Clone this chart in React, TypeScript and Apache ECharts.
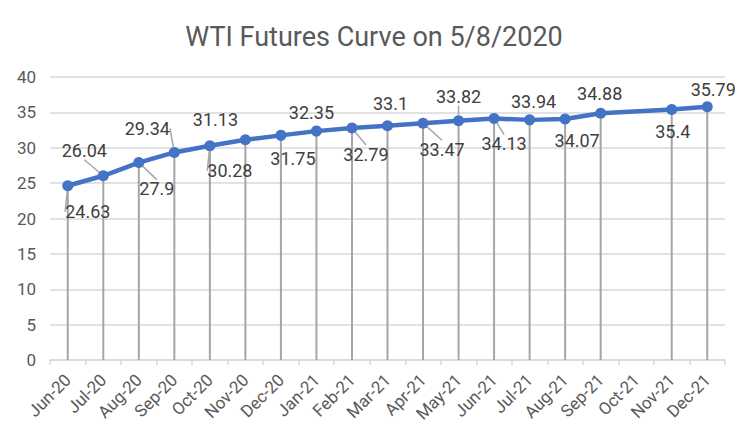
import React, { useEffect, useRef } from "react";
import * as echarts from "echarts";

const categories = [
  "Jun-20", "Jul-20", "Aug-20", "Sep-20", "Oct-20", "Nov-20", "Dec-20",
  "Jan-21", "Feb-21", "Mar-21", "Apr-21", "May-21", "Jun-21", "Jul-21",
  "Aug-21", "Sep-21", "Oct-21", "Nov-21", "Dec-21",
];

const prices: (number | null)[] = [
  24.63, 26.04, 27.9, 29.34, 30.28, 31.13, 31.75, 32.35, 32.79, 33.1,
  33.47, 33.82, 34.13, 33.94, 34.07, 34.88, null, 35.4, 35.79,
];

const yMin = 0;
const yMax = 40;
const yStep = 5;

const titleText = "WTI Futures Curve on 5/8/2020";

// label placement (styling): offset of label centre from its point, and whether a leader line is drawn
const labelOffsets: [number, number][] = [
  [20, 26], [-19, -25], [18, 26], [-27, -24], [20, 25], [-30, -20], [12, 23],
  [-5, -19], [14, 26], [3, -22], [19, 26], [0, -24], [10, 25], [4, -18],
  [12, 22], [-1, -20], [0, 0], [1, 22], [6, -17],
];
const leaderShown = [
  true, true, true, true, true, false, false, false, true, false,
  true, true, true, false, false, false, false, false, false,
];

const FONT = "Roboto";

export default function App() {
  const ref = useRef<HTMLDivElement>(null);
  useEffect(() => {
    if (!ref.current) return;
    const chart = echarts.init(ref.current, null, { renderer: "svg" });
    const lineData = prices.map((v, i) => ({
      value: v,
      labelLine: { show: leaderShown[i] },
    }));
    chart.setOption({
      animation: false,
      backgroundColor: "#ffffff",
      title: {
        text: titleText,
        left: "center",
        top: 18,
        textStyle: {
          fontFamily: FONT,
          fontSize: 27,
          fontWeight: "normal",
          color: "#595959",
        },
      },
      grid: { left: 50, right: 23, top: 77, bottom: 88, containLabel: false },
      xAxis: {
        type: "category",
        data: categories,
        boundaryGap: true,
        axisLine: { lineStyle: { color: "#d9d9d9", width: 1.5 } },
        axisTick: { show: true, length: 5, lineStyle: { color: "#d9d9d9", width: 1.5 } },
        axisLabel: {
          rotate: 45,
          interval: 0,
          fontFamily: FONT,
          fontSize: 17,
          color: "#595959",
          margin: 17,
        },
      },
      yAxis: {
        type: "value",
        min: yMin,
        max: yMax,
        interval: yStep,
        axisLine: { show: false },
        axisTick: { show: false },
        splitLine: { lineStyle: { color: "#d9d9d9", width: 1.5 } },
        axisLabel: {
          fontFamily: FONT,
          fontSize: 17,
          color: "#595959",
          margin: 14,
        },
      },
      series: [
        {
          type: "bar",
          data: prices,
          barWidth: 2,
          silent: true,
          z: 1,
          itemStyle: { color: "#a5a5a5" },
        },
        {
          type: "line",
          data: lineData,
          connectNulls: true,
          z: 3,
          symbol: "circle",
          symbolSize: 11,
          lineStyle: { color: "#4472c4", width: 4.5 },
          itemStyle: { color: "#4472c4" },
          label: {
            show: true,
            position: "inside",
            fontFamily: FONT,
            fontSize: 18,
            color: "#404040",
          },
          labelLine: {
            show: true,
            lineStyle: { color: "#a6a6a6", width: 1.5 },
          },
          labelLayout: (params: any) => {
            const i = params.dataIndex;
            const off = labelOffsets[i] || [0, 0];
            const r = params.rect;
            const cx = r.x + r.width / 2;
            const cy = r.y + r.height / 2;
            return {
              x: cx + off[0],
              y: cy + off[1],
              align: "center",
              verticalAlign: "middle",
            };
          },
        },
      ],
    });
    return () => chart.dispose();
  }, []);
  return (
    <div
      ref={ref}
      style={{ position: "fixed", left: 0, top: 0, width: 748, height: 448 }}
    />
  );
}
